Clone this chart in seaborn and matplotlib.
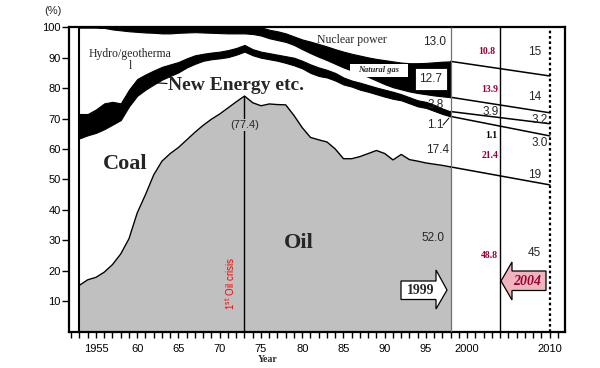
import numpy as np
import matplotlib
matplotlib.use("Agg")
import matplotlib.pyplot as plt
import seaborn as sns
from matplotlib.patches import Polygon, Rectangle

# ---------------- data (shares of primary energy supply, %) ----------------
years = list(range(1953, 1999))
oil = [15.2, 17.0, 17.8, 19.5, 22.0, 25.5, 30.5, 39.0, 45.0, 51.5,
       56.0, 58.5, 60.5, 63.0, 65.5, 67.8, 69.8, 71.5, 73.5, 75.5,
       77.4, 75.2, 74.2, 74.8, 74.6, 74.5, 71.0, 67.0, 63.8, 63.0,
       62.3, 60.0, 56.8, 56.8, 57.5, 58.5, 59.5, 58.5, 56.4, 58.2,
       56.5, 56.0, 55.4, 55.0, 54.6, 54.1]
coal = [48.3, 47.5, 47.5, 47.0, 46.0, 44.0, 43.5, 38.5, 34.5, 29.7,
        26.8, 25.5, 24.7, 23.8, 22.5, 21.2, 19.7, 18.3, 16.7, 15.5,
        14.6, 15.6, 15.8, 14.7, 14.4, 13.8, 16.5, 19.5, 21.2, 21.0,
        21.2, 22.5, 24.4, 23.7, 22.0, 20.3, 18.5, 18.7, 20.1, 17.8,
        18.5, 18.0, 18.1, 17.5, 16.9, 16.6]
new_energy = [8.0, 7.0, 7.7, 8.5, 7.5, 5.5, 5.5, 5.5, 5.0, 4.6,
              4.2, 3.8, 3.4, 3.0, 2.8, 2.3, 2.2, 2.2, 2.3, 2.2,
              2.2, 2.0, 2.0, 2.0, 2.0, 2.2, 2.5, 2.5, 2.8, 2.8,
              2.5, 2.5, 2.3, 2.0, 2.3, 2.2, 2.2, 2.3, 2.3, 2.0,
              2.0, 2.0, 2.0, 2.0, 1.8, 1.6]
hydro = [28.5, 28.5, 27.0, 24.8, 23.8, 24.0, 19.2, 15.5, 13.8, 12.4,
         11.0, 10.2, 9.6, 8.5, 7.6, 7.0, 6.5, 6.1, 5.5, 4.8,
         3.8, 5.0, 5.3, 4.9, 4.8, 4.7, 4.2, 3.8, 3.7, 3.5,
         3.2, 3.0, 3.3, 3.3, 3.0, 2.7, 2.3, 1.8, 1.5, 1.6,
         1.9, 2.4, 2.5, 3.1, 4.0, 4.7]
natural_gas = [0.0, 0.0, 0.0, 0.2, 0.7, 1.0, 1.3, 1.5, 1.7, 1.8,
               2.0, 2.0, 1.8, 1.7, 1.6, 1.7, 1.8, 1.9, 2.0, 2.0,
               2.0, 2.2, 2.7, 2.8, 2.9, 2.8, 2.8, 3.2, 3.8, 4.2,
               4.5, 4.8, 5.2, 5.5, 5.9, 6.4, 7.1, 7.9, 8.5, 8.8,
               9.3, 9.8, 10.3, 10.9, 11.4, 11.8]

# outlook lines (1999 actual -> 2010 target)
proj_years = [1998, 2010]
proj_oil = [54.1, 48.2]
proj_coal = [16.6, 16.1]
proj_new_energy = [1.6, 4.0]
proj_hydro = [4.7, 3.6]
proj_natural_gas = [11.8, 12.1]

labels_1999 = ["13.0", "12.7", "3.8", "1.1", "17.4", "52.0"]
labels_2004 = ["10.8", "13.9", "3.9", "1.1", "21.4", "48.8"]
labels_2010 = ["15", "14", "3.2", "3.0", "19", "45"]

oil_crisis_year = 1973
oil_peak = 77.4

xtick_years = [1955, 1960, 1965, 1970, 1975, 1980, 1985, 1990, 1995, 2000, 2010]
xtick_labels = ["1955", "60", "65", "70", "75", "80", "85", "90", "95", "2000", "2010"]

# ---------------- style ----------------
sns.set_theme(style="ticks")
plt.rcParams["font.family"] = ["Liberation Sans", "DejaVu Sans"]
SERIF = ["Liberation Serif", "DejaVu Serif"]
SANS = ["Liberation Sans", "DejaVu Sans"]
CRIMSON = "#990033"

fig = plt.figure(figsize=(6, 3.68), dpi=100)
ax = fig.add_axes([69 / 600, 1 - 331.5 / 368, 496 / 600, 304.2 / 368])
ax.set_facecolor("white")
fig.patch.set_facecolor("white")


def px(x):
    return 1955 + (x - 96) / 8.25


def py(y):
    return (331.5 - y) / 3.042


ax.set_xlim(px(69), px(565))
ax.set_ylim(0, 100)

stack = np.cumsum([oil, coal, new_energy, hydro, natural_gas], axis=0)
oil_top, coal_top, new_top, hydro_top, gas_top = stack

# oil area
ax.fill_between(years, 0, oil_top, color="#c0c0c0", lw=0, zorder=1)
sns.lineplot(x=years, y=oil_top, color="black", lw=1.0, ax=ax, zorder=3)
# new energy band and natural gas band (black)
ax.fill_between(years, coal_top, new_top, facecolor="black", edgecolor="black", lw=0.8, zorder=2)
ax.fill_between(years, hydro_top, gas_top, facecolor="black", edgecolor="black", lw=0.8, zorder=2)

# outlook lines
pstack = np.cumsum([proj_oil, proj_coal, proj_new_energy, proj_hydro, proj_natural_gas], axis=0)
for row in pstack:
    sns.lineplot(x=proj_years, y=row, color="black", lw=1.1, ax=ax, zorder=3)

# vertical lines
ax.vlines(years[0], 0, 100, color="black", lw=1.5, zorder=4)
ax.vlines(oil_crisis_year, 0, oil_peak, color="black", lw=1.0, zorder=4)
ax.vlines(proj_years[0], 0, 100, color="#707070", lw=0.9, zorder=4)
ax.vlines(2004, 0, 100, color="black", lw=1.0, zorder=4)
ax.vlines(proj_years[1], 0, 100, color="black", lw=1.6, ls=(0, (1.2, 1.2)), zorder=4)

# spines / ticks
for s in ax.spines.values():
    s.set_color("black")
    s.set_linewidth(1.6)
ax.set_xticks(xtick_years)
ax.set_xticklabels(xtick_labels)
ax.set_xticks(range(1952, 2012), minor=True)
ax.set_yticks(range(10, 101, 10))
ax.set_yticklabels([str(v) for v in range(10, 101, 10)])
ax.tick_params(axis="x", which="both", length=4, width=1, direction="out", color="black",
               labelsize=8, pad=5, labelcolor="black")
ax.tick_params(axis="y", which="both", length=5, width=1, direction="out", color="black",
               labelsize=8, pad=1, labelcolor="black")
ax.grid(False)

fig.text(53 / 600, 1 - 11 / 368, "(%)", ha="center", va="center", fontsize=8, family=SANS)
fig.text(268 / 600, 1 - 360 / 368, "Year", ha="center", va="center", fontsize=7,
         family=SERIF, weight="bold")

# ---------------- annotations ----------------
ax.text(px(130), py(60), "Hydro/geotherma\nl", ha="center", va="center", fontsize=8.5,
        family=SERIF, linespacing=1.0, zorder=6)
ax.plot([px(151), px(167)], [py(82.5), py(83.5)], color="black", lw=0.8, zorder=6)
ax.text(px(168), py(85), "New Energy etc.", ha="left", va="center", fontsize=14,
        family=SERIF, weight="bold", zorder=6)
ax.text(px(125), py(164), "Coal", ha="center", va="center", fontsize=16,
        family=SERIF, weight="bold", zorder=6)
ax.text(px(299), py(243), "Oil", ha="center", va="center", fontsize=16,
        family=SERIF, weight="bold", zorder=6)
ax.text(px(352), py(40), "Nuclear power", ha="center", va="center", fontsize=8.5,
        family=SERIF, zorder=6)
ax.add_patch(Rectangle((px(350), py(77)), px(408) - px(350), py(64) - py(77),
                       facecolor="white", edgecolor="none", zorder=5))
ax.text(px(379), py(70.5), "Natural gas", ha="center", va="center", fontsize=6,
        family=SERIF, weight="bold", style="italic", zorder=6)

ax.text(oil_crisis_year, py(125), f"({oil_peak})", ha="center", va="center", fontsize=8,
        family=SANS, zorder=6,
        bbox=dict(boxstyle="square,pad=0.1", facecolor="#c0c0c0", edgecolor="none"))
ax.text(px(230), py(283), r"1$^{\rm st}$ Oil crisis", rotation=90, ha="center", va="center",
        fontsize=7, color="#ff0000", family=SANS, zorder=6)

# 1999 labels
ys_1999 = [42, 79, 105, 125, 150, 238]
xs_1999 = [435, 431, 436, 435, 438, 433]
for lab, x, y in zip(labels_1999, xs_1999, ys_1999):
    kw = {}
    if lab == labels_1999[1]:
        kw["bbox"] = dict(boxstyle="square,pad=0.4", facecolor="white", edgecolor="black", lw=0.6)
    ax.text(px(x), py(y), lab, ha="center", va="center", fontsize=8.5, family=SANS, zorder=6, **kw)
ax.plot([px(443), px(449)], [py(125), py(118)], color="black", lw=0.7, zorder=6)

# 2004 labels
ys_2004 = [51, 89, 112, 136, 155, 255]
xs_2004 = [487, 490, 491, 491, 490, 489]
for i, (lab, x, y) in enumerate(zip(labels_2004, xs_2004, ys_2004)):
    if i == 2:
        ax.text(px(x), py(y), lab, ha="center", va="center", fontsize=8.5, family=SANS, zorder=6)
    else:
        ax.text(px(x), py(y), lab, ha="center", va="center", fontsize=7, family=SERIF,
                weight="bold", color="black" if i == 3 else CRIMSON, zorder=6)

# 2010 labels
ys_2010 = [52, 97, 120, 143, 175, 253]
xs_2010 = [535, 535, 540, 540, 535, 534]
for lab, x, y in zip(labels_2010, xs_2010, ys_2010):
    ax.text(px(x), py(y), lab, ha="center", va="center", fontsize=8.5, family=SANS, zorder=6)

# arrows
arr99 = [(px(401), py(281)), (px(436), py(281)), (px(436), py(270)), (px(447), py(290)),
         (px(436), py(309)), (px(436), py(299.5)), (px(401), py(299.5))]
ax.add_patch(Polygon(arr99, closed=True, facecolor="white", edgecolor="black", lw=0.9, zorder=5))
ax.text(px(421), py(291), "1999", ha="center", va="center", fontsize=10, family=SERIF,
        weight="bold", zorder=6)
arr04 = [(px(501), py(281)), (px(512), py(262)), (px(512), py(271)), (px(546), py(271)),
         (px(546), py(290.5)), (px(512), py(290.5)), (px(512), py(300))]
ax.add_patch(Polygon(arr04, closed=True, facecolor="#f0b4bc", edgecolor="black", lw=0.9, zorder=5))
ax.text(px(527), py(281.5), "2004", ha="center", va="center", fontsize=10, family=SERIF,
        weight="bold", style="italic", color=CRIMSON, zorder=6)

fig.savefig("out.png", dpi=100)
